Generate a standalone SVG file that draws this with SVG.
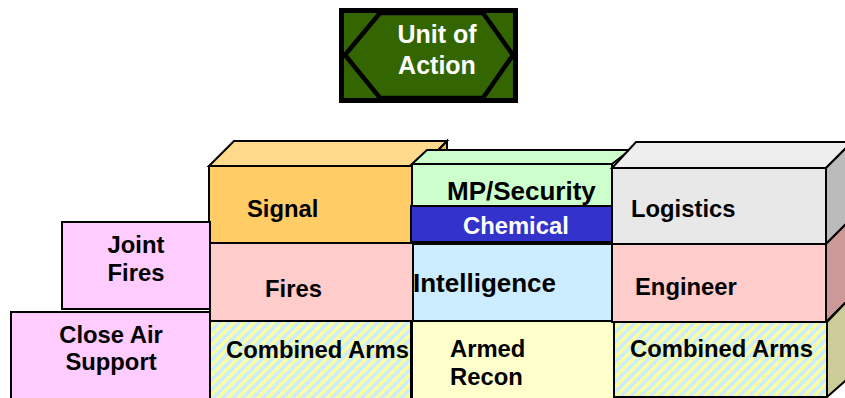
<svg xmlns="http://www.w3.org/2000/svg" width="845" height="398" viewBox="0 0 845 398">
<style>
.e{stroke:#000;stroke-width:2;stroke-linejoin:miter}
.t{font-family:"Liberation Sans",Arial,sans-serif;font-weight:bold;font-size:23.8px;fill:#000}
.w{fill:#fff}
.c{text-anchor:middle}
</style>
<defs>
<pattern id="hatch" width="7" height="7" patternUnits="userSpaceOnUse" patternTransform="rotate(45)">
<rect width="7" height="7" fill="#CCECFF"/>
<rect width="3.3" height="7" fill="#FFFF99"/>
</pattern>
</defs>
<rect width="845" height="398" fill="#fff"/>
<g id="unit-of-action">
<rect x="341.5" y="10.5" width="174" height="90" fill="#336600" stroke="#000" stroke-width="5"/>
<polygon points="345,55 380,13 483,13 513,55 483,98 380,98" fill="none" stroke="#000" stroke-width="4.5"/>
<text class="t w c" x="437" y="43" style="font-size:25px">Unit of</text>
<text class="t w c" x="437" y="74" style="font-size:25px">Action</text>
</g>
<g id="signal">
<polygon class="e" points="209,166 234,141 447,141 423,166" fill="#FFD98C"/>
<polygon class="e" points="423,166 447,141 447,218 423,243" fill="#F0BB55"/>
<rect class="e" x="209" y="166" width="214" height="77" fill="#FFCC66"/>
<text class="t" x="247" y="217">Signal</text>
</g>
<g id="fires">
<rect class="e" x="210" y="243" width="203" height="78" fill="#FFCCCC"/>
<text class="t" x="265" y="297">Fires</text>
</g>
<g id="combined-arms-left">
<rect class="e" x="210" y="321" width="201" height="80" fill="url(#hatch)"/>
<text class="t" x="226" y="358">Combined Arms</text>
</g>
<g id="joint-fires">
<rect class="e" x="62" y="222" width="148" height="87" fill="#FFCCFF"/>
<text class="t c" x="136" y="253">Joint</text>
<text class="t c" x="136" y="281">Fires</text>
</g>
<g id="close-air-support">
<rect class="e" x="11" y="312" width="199" height="90" fill="#FFCCFF"/>
<text class="t c" x="111" y="343">Close Air</text>
<text class="t c" x="111" y="370">Support</text>
</g>
<g id="mp-security">
<polygon class="e" points="412,164 427,150 630,150 612,164" fill="#CCFFCC"/>
<rect class="e" x="412" y="164" width="200" height="42" fill="#CCFFCC"/>
<text class="t" x="447" y="200" style="font-size:26px">MP/Security</text>
</g>
<g id="chemical">
<rect class="e" x="411" y="206" width="201" height="36" fill="#3333CC"/>
<text class="t w" x="463" y="234">Chemical</text>
</g>
<g id="intelligence">
<rect class="e" x="413" y="244" width="199" height="77" fill="#CCECFF"/>
<text class="t" x="413" y="292" style="font-size:26px">Intelligence</text>
</g>
<g id="armed-recon">
<rect class="e" x="412" y="321" width="202" height="80" fill="#FFFFCC"/>
<text class="t" x="450" y="357">Armed</text>
<text class="t" x="450" y="385">Recon</text>
</g>
<g id="logistics">
<polygon class="e" points="612,168 636,142 852,142 826,168" fill="#EEEEEE"/>
<polygon class="e" points="826,168 852,142 852,218 826,244" fill="#BBBBBB"/>
<rect class="e" x="612" y="168" width="214" height="76" fill="#E8E8E8"/>
<text class="t" x="631" y="217">Logistics</text>
</g>
<g id="engineer">
<polygon class="e" points="826,244 852,218 852,296 826,322" fill="#CC9999"/>
<rect class="e" x="612" y="244" width="214" height="78" fill="#FFCCCC"/>
<text class="t" x="635" y="295">Engineer</text>
</g>
<g id="combined-arms-right">
<polygon class="e" points="827,322 852,296 852,375 827,397" fill="#CCCC99"/>
<rect class="e" x="614" y="322" width="213" height="75" fill="url(#hatch)"/>
<text class="t" x="630" y="357">Combined Arms</text>
</g>
</svg>
